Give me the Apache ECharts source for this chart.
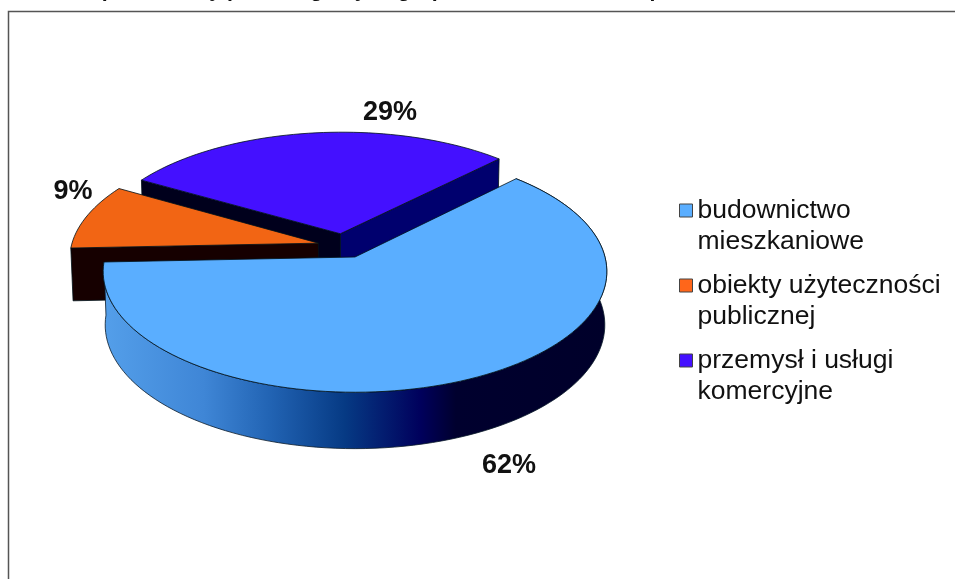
<!DOCTYPE html>
<html><head><meta charset="utf-8">
<style>html,body{margin:0;padding:0;background:#fff;overflow:hidden}#c{width:955px;height:579px;filter:blur(0.45px)}</style>
<script src="https://cdn.jsdelivr.net/npm/echarts@6/dist/echarts.min.js"></script>
</head><body><div id="c"></div>
<script>
const titleText = 'Udział procentowy poszczególnych grup obiektów w całości powierzchni';
const categories = ['budownictwo\nmieszkaniowe', 'obiekty użyteczności\npublicznej', 'przemysł i usługi\nkomercyjne'];
const shares = [62, 9, 29];
const topColors = ['#5aaeff', '#f26514', '#4410ff'];
const legendColors = ['#5aaeff', '#ff661a', '#4410ff'];

// projection of the tilted disc
const firstAngle = 44.4, cx = 355, cy = 257, R = 250, P = 119, K = 0.12;
const baseDrop = 53, baseR = 248, baseP = 122;
const explode = [[0, 0], [-0.148, 0.118], [-0.06, 0.2]];
const startFace = [null, '#160000', '#00001c'];
const endFace = [null, null, '#00006e'];
const labelAt = [[509, 466], [73, 192], [390, 113]];

const rad = d => d * Math.PI / 180;
function proj(X, Y, base) {
  const s = 1 / (1 + K * Y);
  return base ? [cx + baseR * X * s, cy + baseDrop - baseP * Y * s]
              : [cx + R * X * s, cy - P * Y * s];
}
function rim(i, a, base) {
  return proj(Math.sin(rad(a)) + explode[i][0], Math.cos(rad(a)) + explode[i][1], base);
}
function hub(i, base) { return proj(explode[i][0], explode[i][1], base); }
function arc(i, a0, a1, base) {
  const pts = [], n = Math.max(2, Math.ceil(Math.abs(a1 - a0) / 2));
  for (let k = 0; k <= n; k++) pts.push(rim(i, a0 + (a1 - a0) * k / n, base));
  return pts;
}
const total = shares.reduce((a, b) => a + b, 0);
function span(i) {
  let a = firstAngle;
  for (let j = 0; j < i; j++) a += shares[j] / total * 360;
  return [a, a + shares[i] / total * 360];
}
const sideGradient = new echarts.graphic.LinearGradient(0, 0, 1, 0, [
  {offset: 0, color: '#549fea'}, {offset: 0.2, color: '#3f86d6'}, {offset: 0.33, color: '#2264b4'},
  {offset: 0.48, color: '#063a84'}, {offset: 0.63, color: '#00005c'}, {offset: 0.7, color: '#00002e'}, {offset: 1, color: '#00002a'}
]);
const edge = {stroke: '#001018', lineWidth: 0.8};

function renderSlice(i) {
  return function (params, api) {
    const [a0, a1] = span(i), kids = [];
    const face = (a, fill) => kids.push({type: 'polygon', shape: {points: [hub(i), rim(i, a), rim(i, a, true), hub(i, true)]},
      style: Object.assign({fill: fill}, edge)});
    if (startFace[i]) face(a0, startFace[i]);
    if (endFace[i]) face(a1, endFace[i]);
    if (i === 0) {
      kids.push({type: 'polygon', shape: {points: arc(i, a0, a1).concat(arc(i, a1, a0, true))},
        style: {fill: sideGradient, stroke: '#0a1a2a', lineWidth: 0.8}});
    }
    kids.push({type: 'polygon', shape: {points: [hub(i)].concat(arc(i, a0, a1))},
      style: Object.assign({fill: topColors[i]}, edge)});
    kids.push({type: 'text', style: {text: api.value(0) + '%', x: labelAt[i][0], y: labelAt[i][1], align: 'center', verticalAlign: 'middle',
      font: 'bold 27px "Liberation Sans", Arial, sans-serif', fill: '#111'}});
    return {type: 'group', children: kids};
  };
}

const chart = echarts.init(document.getElementById('c'), null, {renderer: 'canvas'});
chart.setOption({
  animation: false,
  backgroundColor: '#fff',
  title: {text: titleText, left: 33, top: -20, padding: 0,
    textStyle: {fontFamily: '"Liberation Sans", Arial, sans-serif', fontWeight: 'bold', fontSize: 21.3, color: '#111'}},
  graphic: [{type: 'rect', silent: true, shape: {x: 8.5, y: 11.5, width: 980, height: 620},
    style: {fill: 'none', stroke: '#555', lineWidth: 1.5}}],
  legend: {
    orient: 'vertical', left: 679, top: 164, padding: 0, selectedMode: false, icon: 'rect',
    itemWidth: 13, itemHeight: 13, itemGap: -18,
    data: categories.slice(),
    formatter: name => '\n' + name,
    itemStyle: {borderColor: '#444', borderWidth: 1},
    textStyle: {fontFamily: '"Liberation Sans", Arial, sans-serif', fontSize: 26.5, color: '#111', lineHeight: 31}
  },
  series: [2, 1, 0].map(i => ({
    type: 'custom', name: categories[i], coordinateSystem: 'none', silent: true,
    itemStyle: {color: legendColors[i]}, data: [[shares[i]]], renderItem: renderSlice(i)
  }))
});
</script></body></html>
